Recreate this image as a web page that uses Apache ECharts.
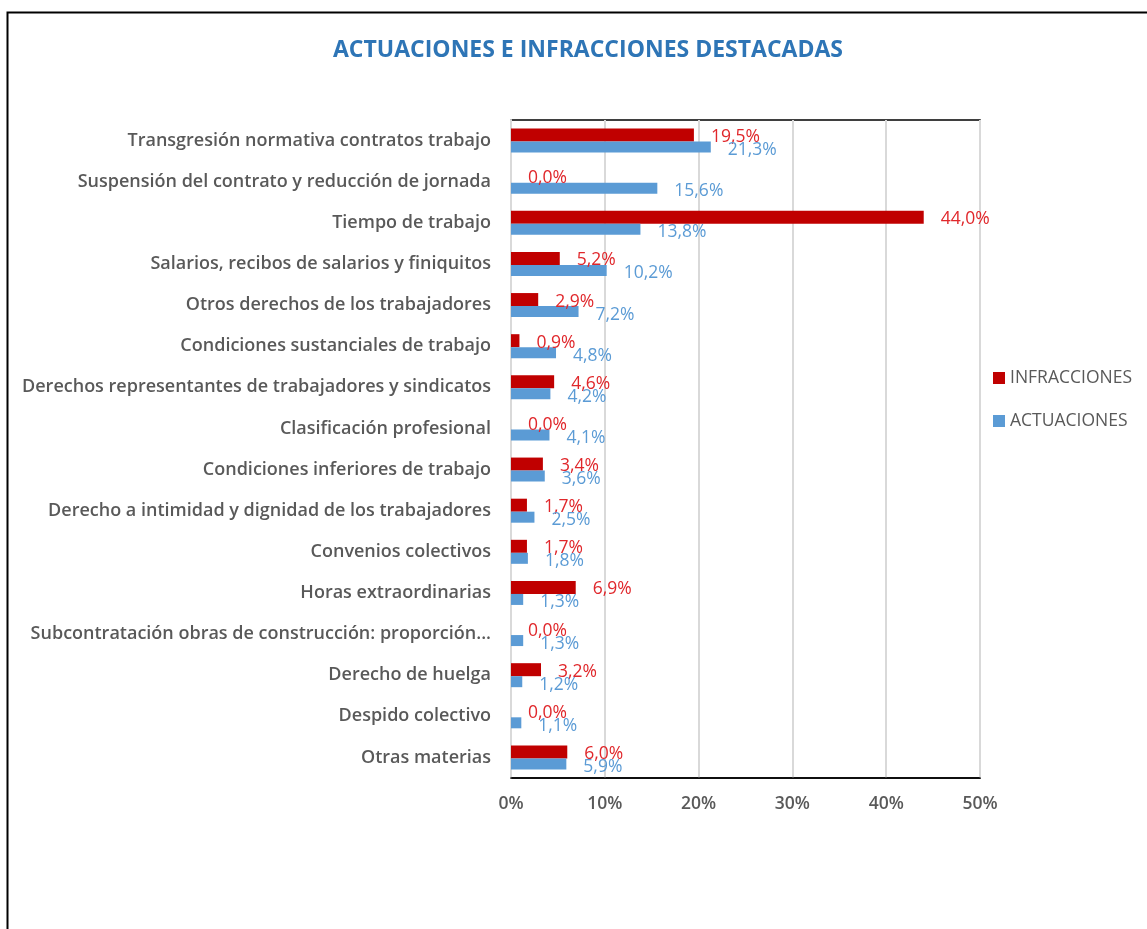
<!DOCTYPE html>
<html>
<head>
<meta charset="utf-8">
<script src="https://cdn.jsdelivr.net/npm/echarts@6/dist/echarts.min.js"></script>
<style>
  html, body { margin: 0; padding: 0; background: #fff; }
  #chart { width: 1147px; height: 929px; }
</style>
</head>
<body>
<div id="chart"></div>
<script>
// categorias (de arriba a abajo)
var categorias = [
  'Transgresión normativa contratos trabajo',
  'Suspensión del contrato y reducción de jornada',
  'Tiempo de trabajo',
  'Salarios, recibos de salarios y finiquitos',
  'Otros derechos de los trabajadores',
  'Condiciones sustanciales de trabajo',
  'Derechos representantes de trabajadores y sindicatos',
  'Clasificación profesional',
  'Condiciones inferiores de trabajo',
  'Derecho a intimidad y dignidad de los trabajadores',
  'Convenios colectivos',
  'Horas extraordinarias',
  'Subcontratación obras de construcción: proporción...',
  'Derecho de huelga',
  'Despido colectivo',
  'Otras materias'
];
var infracciones = [19.5, 0.0, 44.0, 5.2, 2.9, 0.9, 4.6, 0.0, 3.4, 1.7, 1.7, 6.9, 0.0, 3.2, 0.0, 6.0];
var actuaciones  = [21.3, 15.6, 13.8, 10.2, 7.2, 4.8, 4.2, 4.1, 3.6, 2.5, 1.8, 1.3, 1.3, 1.2, 1.1, 5.9];
var ticks = [0, 10, 20, 30, 40, 50];

var myChart = echarts.init(document.getElementById('chart'));

function pct(p) {
  return p.value.toFixed(1).replace('.', ',') + '%';
}

var option = {
  animation: false,
  backgroundColor: '#fff',
  graphic: [{
    type: 'rect',
    left: 5, top: 10,
    shape: { width: 1300, height: 1000 },
    style: { fill: 'none', stroke: '#000', lineWidth: 2 }
  }],
  title: {
    text: 'ACTUACIONES E INFRACCIONES DESTACADAS',
    left: 583, top: 34,
    textAlign: 'center',
    textStyle: { fontFamily: 'Open Sans', fontWeight: 'bold', fontSize: 23, color: '#2E75B6' }
  },
  legend: {
    orient: 'vertical',
    left: 988, top: 364,
    itemWidth: 12, itemHeight: 12,
    itemGap: 25,
    icon: 'rect',
    data: ['INFRACCIONES', 'ACTUACIONES'],
    textStyle: { fontFamily: 'Open Sans', fontSize: 17.5, color: '#595959' }
  },
  grid: {
    left: 511, right: 167, top: 120, bottom: 151,
    show: true, borderColor: '#000', borderWidth: 1.5
  },
  xAxis: {
    type: 'value',
    min: ticks[0], max: ticks[ticks.length - 1], interval: 10,
    axisLine: { show: true, lineStyle: { color: '#000', width: 1.5 } },
    axisTick: { show: false },
    splitLine: { lineStyle: { color: '#d9d9d9', width: 2 } },
    axisLabel: {
      margin: 17,
      formatter: '{value}%',
      fontFamily: 'Open Sans', fontWeight: 600, fontSize: 17.5, color: '#595959'
    }
  },
  yAxis: {
    type: 'category',
    inverse: true,
    data: categorias,
    axisLine: { show: true, lineStyle: { color: '#d9d9d9', width: 2 } },
    axisTick: { show: false },
    axisLabel: {
      margin: 20,
      fontFamily: 'Open Sans', fontWeight: 600, fontSize: 18, color: '#595959'
    }
  },
  series: [
    {
      name: 'INFRACCIONES',
      type: 'bar',
      data: infracciones,
      barWidth: 13,
      barGap: '0%',
      itemStyle: { color: '#C00000' },
      label: {
        show: true, position: 'right', distance: 17, offset: [0, 2],
        formatter: pct,
        fontFamily: 'Open Sans', fontSize: 17.5, color: '#E0272B'
      }
    },
    {
      name: 'ACTUACIONES',
      type: 'bar',
      data: actuaciones,
      barWidth: 11,
      barGap: '0%',
      itemStyle: { color: '#5B9BD5' },
      label: {
        show: true, position: 'right', distance: 17, offset: [0, 3],
        formatter: pct,
        fontFamily: 'Open Sans', fontSize: 17.5, color: '#5B9BD5'
      }
    }
  ]
};
myChart.setOption(option);
</script>
</body>
</html>
